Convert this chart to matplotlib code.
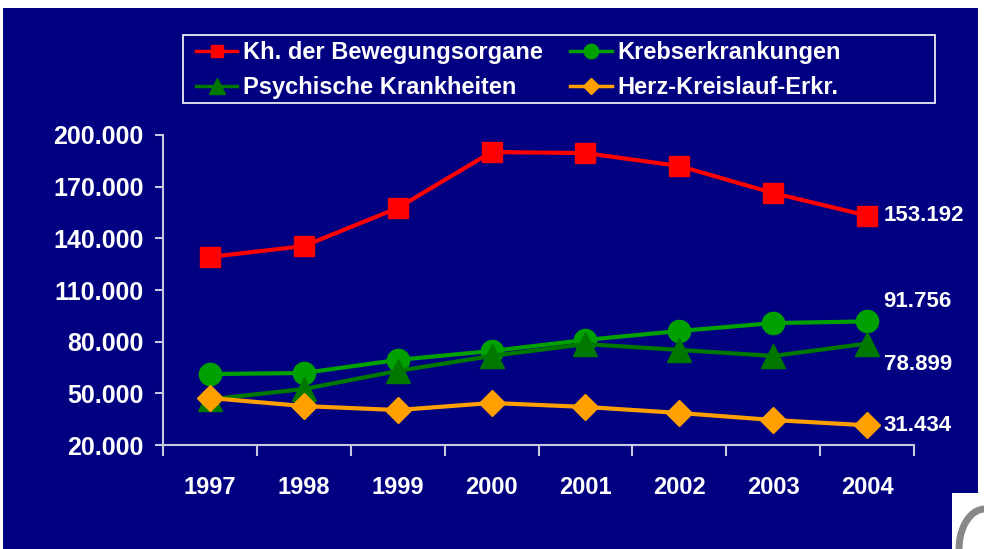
import matplotlib.pyplot as plt
from matplotlib.patches import Rectangle, Arc
from matplotlib.ticker import FuncFormatter, FixedLocator

YEARS = ['1997', '1998', '1999', '2000', '2001', '2002', '2003', '2004']
BEWEGUNG = [129200, 135500, 157600, 190100, 189500, 182000, 166300, 153192]
KREBS = [61200, 61800, 69400, 74600, 81000, 86200, 90800, 91756]
PSYCH = [46500, 52500, 63000, 71700, 78600, 75200, 71700, 78899]
HERZ = [47300, 42600, 40300, 44400, 42100, 38600, 34500, 31434]

BLUE = '#000080'
plt.rcParams['font.family'] = ['Liberation Sans', 'DejaVu Sans']
plt.rcParams['font.weight'] = 'bold'

W, H = 984, 549
fig = plt.figure(figsize=(W / 100, H / 100), dpi=100, facecolor='white')

# blue slide background + white corner with logo fragment
fig.patches.append(Rectangle((3 / W, 0), 975 / W, 541 / H, transform=fig.transFigure,
                             facecolor=BLUE, edgecolor='none', zorder=-10))
fig.patches.append(Rectangle((952 / W, 0), 32 / W, 56 / H, transform=fig.transFigure,
                             facecolor='white', edgecolor='none', zorder=-9))
fig.patches.append(Arc((985 / W, 0), 52 / W, 80 / H, theta1=90, theta2=200, transform=fig.transFigure,
                       color='#888888', lw=5, zorder=-8))
# legend frame
fig.patches.append(Rectangle((183 / W, 1 - 103 / H), 752 / W, 68 / H, transform=fig.transFigure,
                             facecolor='none', edgecolor='white', lw=1.2, zorder=-7))

ax = fig.add_axes([163 / W, 1 - 445 / H, 751 / W, 310 / H])
ax.set_facecolor('none')

x = range(len(YEARS))
h1, = ax.plot(x, BEWEGUNG, color='#FF0000', lw=3, marker='s', ms=14, mec='#FF0000',
              label='Kh. der Bewegungsorgane', clip_on=False)
h2, = ax.plot(x, KREBS, color='#00A000', lw=3, marker='o', ms=16, mec='#00A000',
              label='Krebserkrankungen', clip_on=False)
h3, = ax.plot(x, PSYCH, color='#007800', lw=3, marker='^', ms=17, mec='#007800',
              label='Psychische Krankheiten', clip_on=False)
h4, = ax.plot(x, HERZ, color='#FFA000', lw=3, marker='D', ms=13, mec='#FFA000',
              label='Herz-Kreislauf-Erkr.', clip_on=False)

ax.set_xlim(-0.5, len(YEARS) - 0.5)
ax.set_ylim(20000, 200000)
ax.set_yticks(range(20000, 200001, 30000))
ax.yaxis.set_major_formatter(FuncFormatter(lambda v, p: '{:,.0f}'.format(v).replace(',', '.')))
ax.set_xticks(list(x))
ax.set_xticklabels(YEARS)
ax.xaxis.set_minor_locator(FixedLocator([i - 0.5 for i in range(len(YEARS) + 1)]))

for s in ['top', 'right']:
    ax.spines[s].set_visible(False)
for s in ['left', 'bottom']:
    ax.spines[s].set_color('#C8C8E0')
    ax.spines[s].set_linewidth(1.5)

ax.tick_params(axis='y', colors='#C8C8E0', labelcolor='white', length=6, width=1.5,
               labelsize=18, pad=8)
ax.tick_params(axis='x', which='major', length=0, labelcolor='white', labelsize=17, pad=22)
ax.tick_params(axis='x', which='minor', length=8, width=1.5, colors='#C8C8E0', direction='out')

# end value labels
last = len(YEARS) - 1
for vals, dy in [(BEWEGUNG, 0), (KREBS, 14), (PSYCH, -15), (HERZ, 0)]:
    ax.annotate('{:,.0f}'.format(vals[-1]).replace(',', '.'), (last, vals[-1]),
                xytext=(12, dy), textcoords='offset points', va='center', ha='left',
                color='white', fontsize=16, fontweight='bold', annotation_clip=False)

leg = fig.legend([h1, h3, h2, h4], [h.get_label() for h in [h1, h3, h2, h4]], ncol=2,
                 loc='upper left', bbox_to_anchor=(189 / W, 1 - 34 / H),
                 borderaxespad=0, frameon=False, fontsize=17, handlelength=1.75,
                 handletextpad=0.25, labelspacing=0.5, borderpad=0.3, columnspacing=1.15,
                 markerscale=0.65)
for t in leg.get_texts():
    t.set_color('white')
for hl in leg.legend_handles:
    hl.set_linewidth(2.5)

fig.savefig('out.png', dpi=100, facecolor='white')
